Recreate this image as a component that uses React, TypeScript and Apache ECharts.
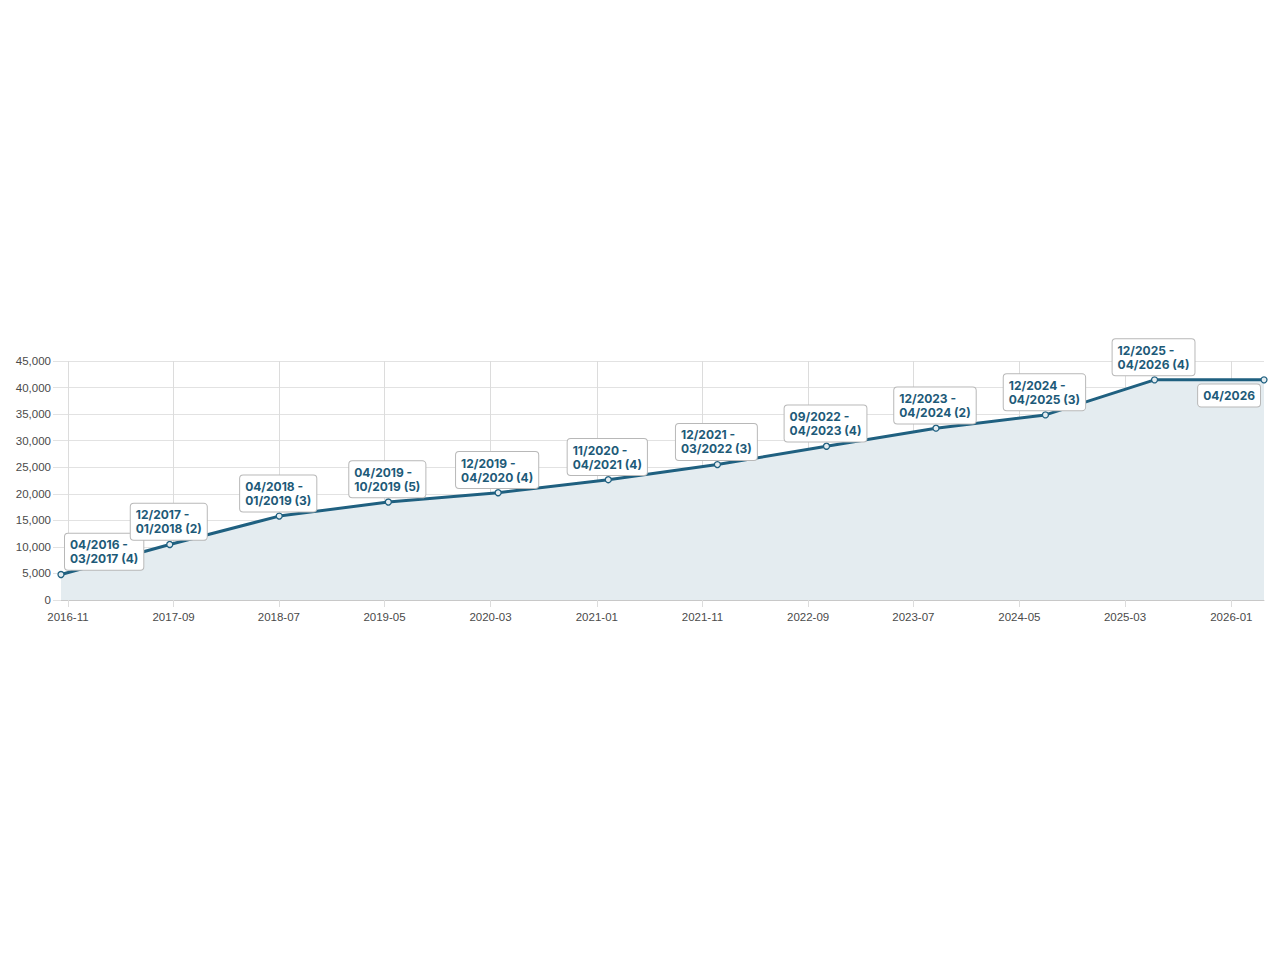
import React, { useEffect, useRef } from "react";
import * as echarts from "echarts";

const pointDates = [
  "2016-10-12", "2017-08-21", "2018-07-02", "2019-05-12", "2020-03-23", "2021-02-03",
  "2021-12-14", "2022-10-24", "2023-09-04", "2024-07-15", "2025-05-25", "2026-04-05",
];
const pointValues = [4800, 10450, 15800, 18450, 20200, 22650, 25500, 28950, 32350, 34850, 41450, 41450];
const pointLabels = [
  "04/2016 -\n03/2017 (4)",
  "12/2017 -\n01/2018 (2)",
  "04/2018 -\n01/2019 (3)",
  "04/2019 -\n10/2019 (5)",
  "12/2019 -\n04/2020 (4)",
  "11/2020 -\n04/2021 (4)",
  "12/2021 -\n03/2022 (3)",
  "09/2022 -\n04/2023 (4)",
  "12/2023 -\n04/2024 (2)",
  "12/2024 -\n04/2025 (3)",
  "12/2025 -\n04/2026 (4)",
  "04/2026",
];
const xTickLabels = [
  "2016-11", "2017-09", "2018-07", "2019-05", "2020-03", "2021-01",
  "2021-11", "2022-09", "2023-07", "2024-05", "2025-03", "2026-01",
];

const LINE = "#1f6080";
const FILL = "#e4ecf0";
const TEXT = "#1d5a78";

const toTs = (s: string) => {
  const [y, m, d] = s.split("-").map(Number);
  return Date.UTC(y, m - 1, d || 1);
};

export default function App() {
  const ref = useRef<HTMLDivElement>(null);
  useEffect(() => {
    if (!ref.current) return;
    const chart = echarts.init(ref.current, null, { renderer: "svg" });
    const tickTs = xTickLabels.map(toTs);
    const last = pointDates.length - 1;
    const data = pointDates.map((d, i) => ({
      value: [toTs(d), pointValues[i]],
      label: {
        formatter: pointLabels[i],
        position: i === last ? "bottom" : "top",
        align: i === last ? "right" : "left",
      },
    }));
    chart.setOption({
      animation: false,
      grid: { left: 61, right: 16, top: 361, bottom: 360, containLabel: false },
      xAxis: {
        type: "value",
        min: toTs(pointDates[0]),
        max: toTs(pointDates[last]),
        axisLine: { show: true, lineStyle: { color: "#c8c8c8", width: 1 } },
        axisTick: { show: true, length: 7, customValues: tickTs, lineStyle: { color: "#dcdcdc" } },
        splitLine: { show: true, lineStyle: { color: "#dcdcdc", width: 1 } },
        axisLabel: {
          customValues: tickTs,
          color: "#4a4a4a",
          fontSize: 11.5,
          fontFamily: "Liberation Sans, Arial, sans-serif",
          margin: 11,
          formatter: (v: number) => {
            const idx = tickTs.indexOf(v);
            return idx >= 0 ? xTickLabels[idx] : "";
          },
        },
      },
      yAxis: {
        type: "value",
        min: 0,
        max: 45000,
        interval: 5000,
        axisLine: { show: false },
        axisTick: { show: true, length: 8, lineStyle: { color: "#e2e2e2" } },
        splitLine: { show: true, lineStyle: { color: "#e2e2e2", width: 1 } },
        axisLabel: {
          color: "#4a4a4a",
          fontSize: 11.5,
          fontFamily: "Liberation Sans, Arial, sans-serif",
          margin: 10,
          formatter: (v: number) => v.toLocaleString("en-US"),
        },
      },
      series: [
        {
          type: "line",
          data,
          symbol: "circle",
          symbolSize: 6,
          showAllSymbol: true,
          lineStyle: { color: LINE, width: 3 },
          itemStyle: { color: FILL, borderColor: LINE, borderWidth: 1.3 },
          areaStyle: { color: FILL, opacity: 1 },
          label: {
            show: true,
            color: TEXT,
            fontWeight: "bold",
            fontSize: 12,
            lineHeight: 14,
            fontFamily: "Inter, Liberation Sans, Arial, sans-serif",
            backgroundColor: "#ffffff",
            borderColor: "#b8b8b8",
            borderWidth: 1,
            borderRadius: 3,
            padding: [4, 5, 4, 5],
            distance: 4,
          },
          labelLayout: (p: any) => {
            if (p.dataIndex === 0) return { dx: 4, dy: 3, hideOverlap: false };
            if (p.dataIndex === last) return { dx: -4, dy: -3, hideOverlap: false };
            return { dx: -p.labelRect.width / 2, dy: 3, hideOverlap: false };
          },
          z: 3,
        },
      ],
    });
    return () => chart.dispose();
  }, []);
  return (
    <div
      ref={ref}
      style={{ position: "fixed", left: 0, top: 0, width: 1280, height: 960, background: "#fff" }}
    />
  );
}
